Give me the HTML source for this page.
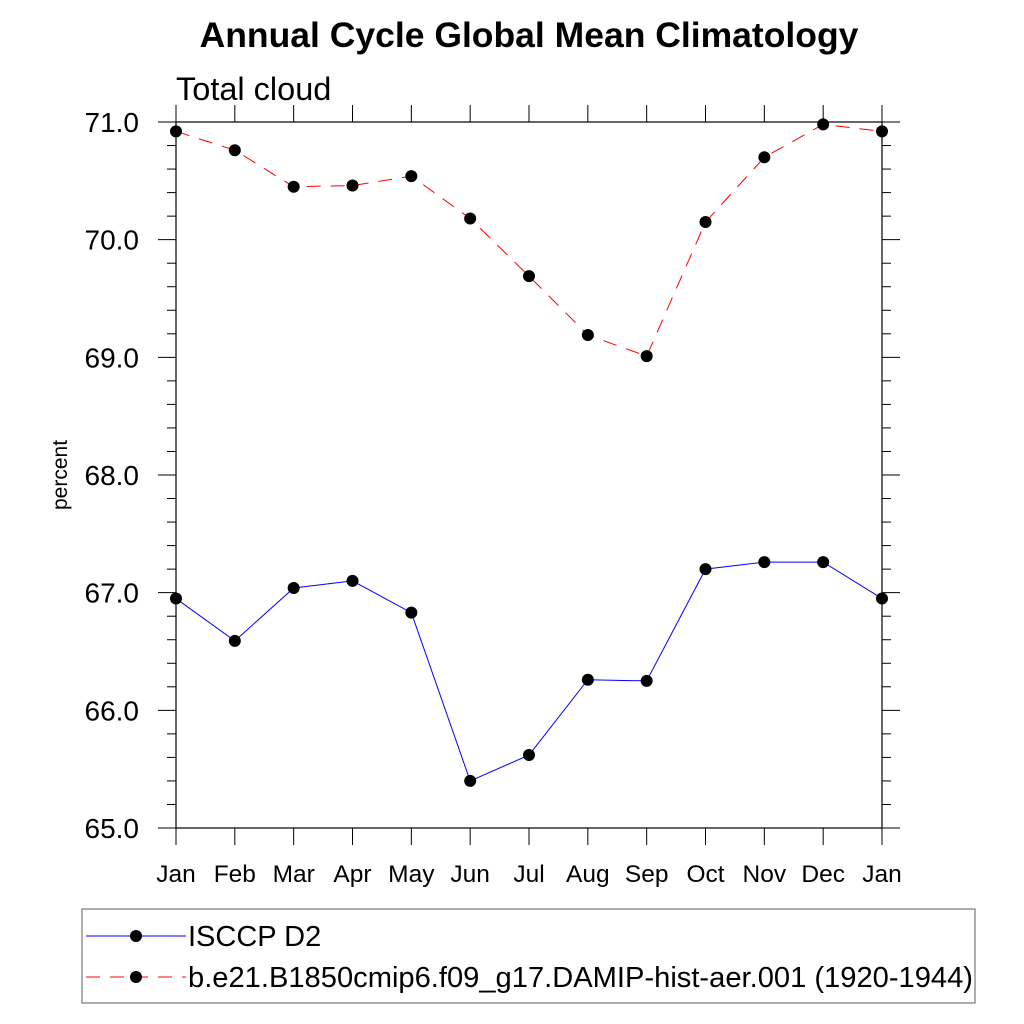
<!DOCTYPE html>
<html><head><meta charset="utf-8"><style>
html,body{margin:0;padding:0;background:#fff;}
svg{display:block;font-family:"Liberation Sans",sans-serif;}
</style></head><body>
<svg id="chart" width="1024" height="1024" viewBox="0 0 1024 1024">
<text x="529" y="47" text-anchor="middle" font-size="35.5" font-weight="bold">Annual Cycle Global Mean Climatology</text>
<text x="176" y="100" font-size="32.5">Total cloud</text>
<text transform="translate(67,475) rotate(-90)" text-anchor="middle" font-size="21">percent</text>
<g id="axes"></g>
<g id="series"></g>
<g>
<rect x="82" y="909" width="893" height="94" fill="none" stroke="#777" stroke-width="1.2"/>
<g>
<line x1="86" y1="936" x2="186" y2="936" stroke="#0000ff" stroke-width="1"/>
<circle cx="136" cy="936" r="6" fill="#000"/>
<text x="188" y="946" font-size="29">ISCCP D2</text>
</g>
<g>
<line x1="86" y1="977" x2="186" y2="977" stroke="#ff0000" stroke-width="1" stroke-dasharray="14,10"/>
<circle cx="136" cy="977" r="6" fill="#000"/>
<text x="188" y="987" font-size="29" textLength="785" lengthAdjust="spacingAndGlyphs">b.e21.B1850cmip6.f09_g17.DAMIP-hist-aer.001 (1920-1944)</text>
</g>
</g>
</svg>
<script>
const months = ["Jan","Feb","Mar","Apr","May","Jun","Jul","Aug","Sep","Oct","Nov","Dec","Jan"];
const isccp = [66.95,66.59,67.04,67.10,66.83,65.40,65.62,66.26,66.25,67.20,67.26,67.26,66.95];
const model = [70.92,70.76,70.45,70.46,70.54,70.18,69.69,69.19,69.01,70.15,70.70,70.98,70.92];
const yTicks = ["65.0","66.0","67.0","68.0","69.0","70.0","71.0"];
const NS="http://www.w3.org/2000/svg";
const X0=176,X1=882,Y0=828,Y1=122,YMIN=65,YMAX=71;
function xs(i){return X0+(X1-X0)*i/(months.length-1);}
function ys(v){return Y0-(v-YMIN)/(YMAX-YMIN)*(Y0-Y1);}
function mk(tag,attrs,parent){const e=document.createElementNS(NS,tag);for(const k in attrs)e.setAttribute(k,attrs[k]);parent.appendChild(e);return e;}
const ax=document.getElementById('axes');
const frame=mk('rect',{x:X0,y:Y1,width:X1-X0,height:Y0-Y1,fill:'none',stroke:'#000','stroke-width':1.2},ax);


for(let v=YMIN;v<=YMAX+1e-6;v+=0.2){
  const y=ys(v);const major=Math.abs(v-Math.round(v))<1e-6;const L=major?18:9;
  mk('line',{x1:X0-L,y1:y,x2:X0,y2:y,stroke:'#000','stroke-width':1},ax);
  mk('line',{x1:X1,y1:y,x2:X1+L,y2:y,stroke:'#000','stroke-width':1},ax);
}
yTicks.forEach(t=>{
  const tx=mk('text',{x:139,y:ys(parseFloat(t))+10,'text-anchor':'end','font-size':28},ax);
  tx.textContent=t;
  
  
});
months.forEach((m,i)=>{
  const x=xs(i);
  mk('line',{x1:x,y1:Y0,x2:x,y2:Y0+17,stroke:'#000','stroke-width':1},ax);
  mk('line',{x1:x,y1:Y1-17,x2:x,y2:Y1,stroke:'#000','stroke-width':1},ax);
  const tx=mk('text',{x:x,y:882,'text-anchor':'middle','font-size':24.5},ax);
  tx.textContent=m;
  
  
});
const sg=document.getElementById('series');
function drawSeries(vals,color,dash,name){
  const g=mk('g',{},sg);
  
  
  const pts=vals.map((v,i)=>xs(i)+','+ys(v)).join(' ');
  const a={points:pts,fill:'none',stroke:color,'stroke-width':1};
  if(dash)a['stroke-dasharray']=dash;
  mk('polyline',a,g);
  vals.forEach((v,i)=>{
    const c=mk('circle',{cx:xs(i),cy:ys(v),r:6,fill:'#000'},g);
    
    
  });
}
drawSeries(isccp,'#0000ff',null,'isccp-series');
drawSeries(model,'#ff0000','14,10','model-series');
</script>
</body></html>
